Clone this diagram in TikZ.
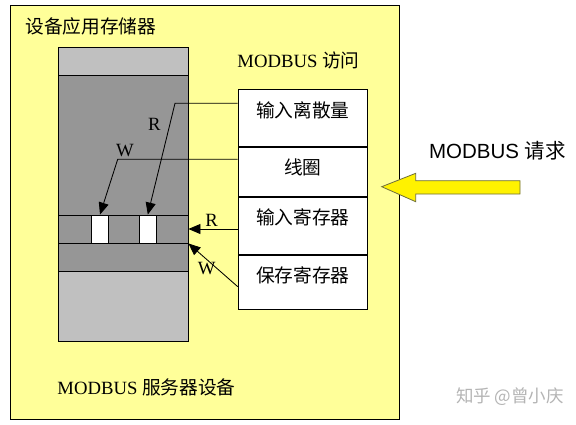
\documentclass[tikz,border=0pt]{standalone}
\usepackage{fontspec}
\setmainfont{Liberation Serif}
\newfontfamily\cjk{Noto Sans CJK SC}
\newfontfamily\arialfont{Liberation Sans}
\usetikzlibrary{arrows.meta,calc}
\definecolor{boxyellow}{HTML}{FFFF99}
\definecolor{memlight}{HTML}{C0C0C0}
\definecolor{memdark}{HTML}{969696}
\definecolor{arrowedge}{HTML}{6E6E3C}
\definecolor{markgray}{HTML}{B4B4B4}
\tikzset{
  cell/.style={draw, fill=white, minimum width=129.6pt, inner sep=0pt, anchor=north west},
  celltext/.style={font=\cjk\fontsize{18.7}{20}\selectfont, inner sep=0pt},
  slot/.style={draw, fill=white, minimum width=16.5pt, minimum height=28pt, inner sep=0pt},
  rw/.style={-{Triangle[length=12pt,width=10pt]}},
  lbl/.style={font=\fontsize{18.7}{20}\selectfont, inner sep=0pt},
}

\begin{document}
\begin{tikzpicture}[x=1pt,y=-1pt,line width=0.85pt]
\useasboundingbox (0,0) rectangle (576,424);
\draw[fill=boxyellow] (10,5) rectangle (399,419);
\node[celltext, anchor=west] (title) at (25,26) {设备应用存储器};
\node[lbl, anchor=west] (access) at (237,60) {MODBUS {\cjk 访问}};
\node[lbl, anchor=west] (server) at (57,387) {MODBUS {\cjk 服务器设备}};

% memory column
\draw[fill=memlight] (58,47) rectangle (188,75);
\draw[fill=memdark] (58,75) rectangle (188,215);
\node[draw, fill=memdark, minimum width=130pt, minimum height=28pt, inner sep=0pt] (band) at (123,229) {};
\draw[fill=memdark] (58,243) rectangle (188,271);
\draw[fill=memlight] (58,271) rectangle (188,341);
\node[slot] (slotw) at (100,229) {};
\node[slot] (slotr) at (147.8,229) {};

% table
\node[cell, minimum height=56.7pt] (din) at (237.7,89.3) {};
\node[cell, minimum height=49.3pt] (coil) at (din.south west) {};
\node[cell, minimum height=57pt] (ireg) at (coil.south west) {};
\node[cell, minimum height=53.7pt] (hreg) at (ireg.south west) {};
\node[celltext] (dintext) at ($(din.north)+(0,21)$) {输入离散量};
\node[celltext] (coiltext) at ($(coil.north)+(0,21)$) {线圈};
\node[celltext] (iregtext) at ($(ireg.north)+(0,20)$) {输入寄存器};
\node[celltext] (hregtext) at ($(hreg.north)+(0,20)$) {保存寄存器};

% access paths
\coordinate (rbend) at (175,103.3);
\coordinate (wbend) at (117.7,159.3);
\draw[rw] (din.west |- rbend) -- (rbend) -- (slotr.north);
\draw[rw] (coil.west |- wbend) -- (wbend) -- (slotw.north);
\draw[rw] (ireg.west |- band.east) -- (band.east);
\draw[rw] ($(hreg.west)+(0,4.5)$) -- (band.south east);
\node[lbl] (rone) at (154.3,124.3) {R};
\node[lbl] (wone) at (125,150.7) {W};
\node[lbl] (rtwo) at (211.7,220.7) {R};
\node[lbl] (wtwo) at (206.7,268.3) {W};

% request
\draw[fill=yellow, draw=arrowedge, line width=0.8pt] (381.7,186.7) -- (415.7,173.3) -- (415.7,180.7)
  -- (520,180.7) -- (520,194) -- (415.7,194) -- (415.7,201.7) -- cycle;
\node[font=\arialfont\fontsize{20.5}{22}\selectfont, inner sep=0pt] (req) at (497.5,150.5) {MODBUS {\cjk 请求}};
\node[font=\cjk\fontsize{17.5}{19}\selectfont, text=markgray, inner sep=0pt] (mark) at (510,397) {知乎 @曾小庆};
\end{tikzpicture}
\end{document}
